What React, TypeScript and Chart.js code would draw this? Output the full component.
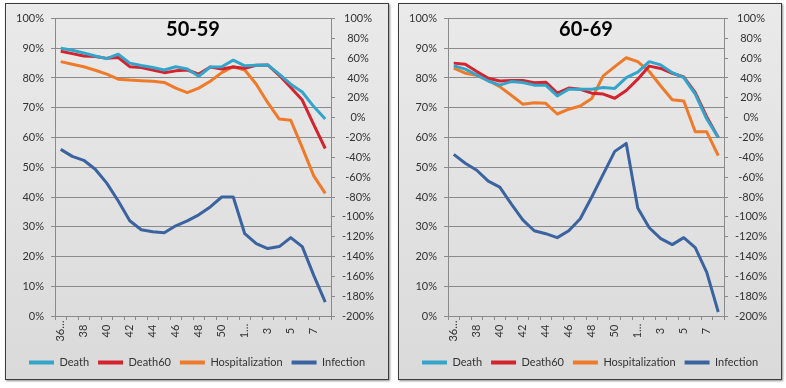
import React, { useEffect, useRef } from "react";
import { Chart, registerables } from "chart.js";

Chart.register(...registerables);

const weeks = [
  "36…", "37", "38", "39", "40", "41", "42", "43", "44", "45", "46", "47", "48", "49", "50", "51",
  "1…", "2", "3", "4", "5", "6", "7", "8",
];

// 50-59 panel
const death5059 = [90.0, 89.3, 88.4, 87.4, 86.5, 88.0, 85.0, 84.2, 83.5, 82.7, 83.8, 83.0, 80.6, 83.7, 83.8, 86.0, 84.1, 84.3, 84.4, 81.3, 77.9, 75.3, 70.4, 66.2];
const death60_5059 = [89.0, 88.2, 87.4, 87.2, 86.6, 86.9, 83.8, 83.5, 82.7, 81.8, 82.4, 82.7, 81.3, 83.7, 83.0, 83.7, 83.3, 84.3, 84.4, 80.9, 76.8, 72.6, 64.3, 56.3];
const hosp5059 = [85.5, 84.6, 83.8, 82.6, 81.3, 79.6, 79.3, 79.1, 78.9, 78.5, 76.6, 75.1, 76.6, 78.9, 81.8, 83.8, 82.7, 77.9, 71.7, 66.2, 65.8, 56.6, 47.1, 41.2];
const infection5059 = [-32, -39, -43, -52, -66, -84, -104, -113, -115, -116, -109, -104, -98, -90, -80, -80, -117, -127, -132, -130, -121, -130, -159, -186];

// 60-69 panel
const death6069 = [84.1, 83.0, 81.0, 79.0, 77.6, 78.8, 78.5, 77.6, 77.6, 74.0, 76.2, 76.2, 76.2, 76.8, 76.5, 80.1, 82.0, 85.5, 84.4, 81.8, 80.1, 74.6, 66.2, 60.0];
const death60_6069 = [85.0, 84.6, 82.2, 79.9, 79.0, 79.2, 79.2, 78.4, 78.6, 74.9, 76.6, 76.2, 74.9, 74.6, 73.2, 75.8, 79.6, 84.0, 83.2, 81.6, 80.4, 75.1, 66.9, 60.0];
const hosp6069 = [83.3, 81.6, 80.9, 79.2, 77.1, 74.2, 71.2, 71.7, 71.5, 67.9, 69.5, 70.6, 73.1, 80.7, 83.8, 86.8, 85.5, 82.2, 77.3, 72.7, 72.3, 61.9, 61.9, 53.9];
const infection6069 = [-37, -46, -53, -64, -70, -87, -103, -114, -117, -121, -114, -102, -80, -57, -34, -26, -91, -111, -122, -128, -121, -131, -156, -196];

const seriesNames = ["Death", "Death60", "Hospitalization", "Infection"];
const seriesColors = ["#33A5CB", "#D3232F", "#EE7A2A", "#3A63A0"];

const FONT = "Lato";
const TEXT = "#333333";
const GRID = "#8A8A8A";

type PanelProps = {
  title: string;
  death: number[];
  death60: number[];
  hosp: number[];
  infection: number[];
  left: number;
};

function Panel({ title, death, death60, hosp, infection, left }: PanelProps) {
  const ref = useRef<HTMLCanvasElement | null>(null);

  useEffect(() => {
    if (!ref.current) return;
    const values = [death, death60, hosp, infection];
    const titlePlugin = {
      id: "panelTitle",
      afterDatasetsDraw(chart: any) {
        const { ctx, chartArea } = chart;
        ctx.save();
        ctx.font = `bold 20px ${FONT}`;
        ctx.fillStyle = "#000";
        ctx.textAlign = "center";
        ctx.textBaseline = "middle";
        ctx.fillText(title, (chartArea.left + chartArea.right) / 2, chartArea.top + 11);
        ctx.restore();
      },
    };
    const xLabelPlugin = {
      id: "xLabels",
      afterDraw(chart: any) {
        const { ctx, chartArea } = chart;
        const xs = chart.scales.x;
        ctx.save();
        ctx.font = `11px ${FONT}`;
        ctx.fillStyle = TEXT;
        ctx.textAlign = "center";
        ctx.textBaseline = "middle";
        for (let i = 0; i < weeks.length; i += 2) {
          const x = xs.getPixelForValue(i);
          ctx.save();
          ctx.translate(x, chartArea.bottom + 15);
          ctx.rotate(-Math.PI / 2);
          ctx.fillText(weeks[i], 0, 0);
          ctx.restore();
        }
        ctx.restore();
      },
    };

    const chart = new Chart(ref.current, {
      type: "line",
      data: {
        labels: weeks,
        datasets: seriesNames.map((name, k) => ({
          label: name,
          data: values[k],
          borderColor: seriesColors[k],
          backgroundColor: seriesColors[k],
          borderWidth: 3,
          pointRadius: 0,
          tension: 0,
          borderJoinStyle: "round" as const,
          yAxisID: k === 3 ? "y2" : "y",
        })),
      },
      options: {
        responsive: false,
        animation: false,
        devicePixelRatio: 1,
        layout: { padding: { top: 14.5, bottom: 1, left: 0, right: 0 } },
        plugins: {
          tooltip: { enabled: false },
          legend: {
            position: "bottom",
            labels: {
              boxWidth: 25,
              boxHeight: 4,
              padding: 9,
              color: TEXT,
              font: { family: FONT, size: 11 },
              generateLabels: (c: any) =>
                Chart.defaults.plugins.legend.labels
                  .generateLabels(c)
                  .map((l: any) => ({ ...l, fillStyle: l.strokeStyle, lineWidth: 0 })),
            },
          },
        },
        scales: {
          x: {
            offset: true,
            grid: {
              display: true,
              drawOnChartArea: false,
              drawTicks: true,
              tickLength: 4,
              offset: true,
              color: GRID,
            },
            border: { color: GRID },
            ticks: { display: false, autoSkip: false },
            afterFit: (s: any) => {
              s.height = 32;
            },
          },
          y: {
            position: "left",
            min: 0,
            max: 100,
            ticks: {
              stepSize: 10,
              callback: (v: any) => v + "%",
              color: TEXT,
              font: { family: FONT, size: 11 },
              padding: 7,
            },
            grid: { color: GRID, tickLength: 4 },
            border: { color: GRID },
            afterFit: (s: any) => {
              s.width = 49;
            },
          },
          y2: {
            position: "right",
            min: -200,
            max: 100,
            ticks: {
              stepSize: 20,
              callback: (v: any) => v + "%",
              color: TEXT,
              font: { family: FONT, size: 11 },
              padding: 7,
              crossAlign: "center",
            },
            grid: { drawOnChartArea: false, tickLength: 4, color: GRID },
            border: { color: GRID },
            afterFit: (s: any) => {
              s.width = 57;
            },
          },
        },
      } as any,
      plugins: [titlePlugin, xLabelPlugin],
    });
    return () => chart.destroy();
  }, [title, death, death60, hosp, infection]);

  return (
    <div
      style={{
        position: "absolute",
        left,
        top: 3,
        width: 382,
        height: 375,
        border: "1px solid #3c3c3c",
        background: "linear-gradient(#EAEAEA, #DADADA)",
        boxShadow: "1px 1px 2px rgba(0,0,0,0.45)",
      }}
    >
      <canvas ref={ref} width={382} height={375} style={{ display: "block" }} />
    </div>
  );
}

export default function App() {
  return (
    <div
      style={{
        position: "fixed",
        left: 0,
        top: 0,
        width: 786,
        height: 388,
        background: "#fff",
        overflow: "hidden",
      }}
    >
      <Panel title="50-59" death={death5059} death60={death60_5059} hosp={hosp5059} infection={infection5059} left={5} />
      <Panel title="60-69" death={death6069} death60={death60_6069} hosp={hosp6069} infection={infection6069} left={398} />
    </div>
  );
}
